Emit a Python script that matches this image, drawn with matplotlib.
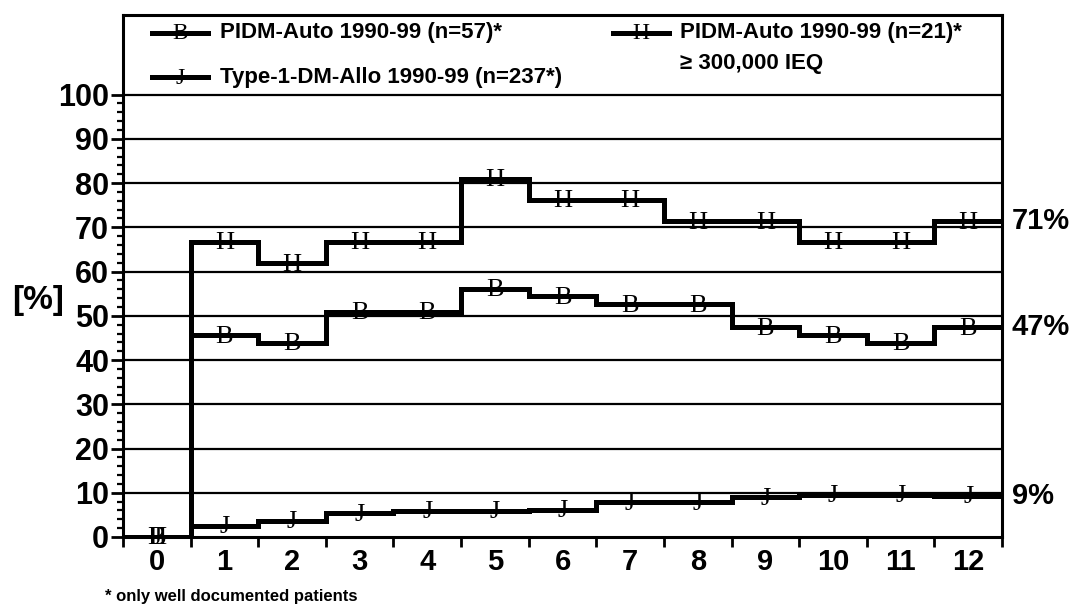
import numpy as np
import matplotlib
matplotlib.use('Agg')
import matplotlib.pyplot as plt
from matplotlib.lines import Line2D

# data
months = list(range(13))
pidm_auto_57 = [0, 45.6, 43.9, 50.9, 50.9, 56.1, 54.4, 52.6, 52.6, 47.4, 45.6, 43.9, 47.4]
pidm_auto_21 = [0, 66.7, 61.9, 66.7, 66.7, 81.0, 76.2, 76.2, 71.4, 71.4, 66.7, 66.7, 71.4]
type1_allo = [0, 2.5, 3.6, 5.4, 5.9, 5.9, 6.1, 7.8, 7.8, 9.0, 9.6, 9.6, 9.3]

series = [
    ('B', pidm_auto_57),
    ('H', pidm_auto_21),
    ('J', type1_allo),
]

plt.rcParams['font.family'] = ['Liberation Sans', 'DejaVu Sans']
plt.rcParams['font.weight'] = 'bold'

fig = plt.figure(figsize=(10.74, 6.08), dpi=100)
ax = fig.add_axes([123/1074, 1 - 537/608, (1002 - 123)/1074, (537 - 15)/608])

edges = np.arange(len(months) + 1) - 0.5
for letter, vals in series:
    ax.stairs(vals, edges, baseline=None, color='black', lw=3.6, zorder=3)
    for x, y in zip(months, vals):
        ax.annotate(letter, (x, y), xytext=(0, -1), textcoords='offset points',
                    ha='center', va='center', fontsize=19, family='Liberation Serif',
                    fontweight='normal', zorder=4)
    # end label
    ax.annotate(f'{round(vals[-1])}%', (1, vals[-1]), xycoords=ax.get_yaxis_transform(),
                xytext=(7, 0), textcoords='offset points', ha='left', va='center',
                fontsize=21, fontweight='bold', annotation_clip=False)

ax.set_xlim(-0.5, 12.5)
ax.set_ylim(0, 118)

# y axis
ax.set_yticks(np.arange(0, 101, 10))
ax.set_yticks(np.arange(0, 101, 2), minor=True)
ax.tick_params(axis='y', which='major', length=9, width=2, pad=1, labelsize=22)
ax.tick_params(axis='y', which='minor', length=4, width=1.6)
for y in range(10, 101, 10):
    ax.axhline(y, color='black', lw=1.6, zorder=1)

# x axis: ticks between categories, labels centred
ax.set_xticks(edges)
ax.set_xticklabels([])
ax.set_xticks(months, minor=True)
ax.set_xticklabels([str(m) for m in months], minor=True)
ax.tick_params(axis='x', which='major', length=7, width=2)
ax.tick_params(axis='x', which='minor', length=0, pad=8, labelsize=21)

for s in ax.spines.values():
    s.set_linewidth(2.2)

# legend drawn by hand
def legend_entry(x0, y0, letter, text):
    ax.add_line(Line2D([x0, x0 + 0.064], [y0, y0], transform=ax.transAxes,
                       color='black', lw=3.6, clip_on=False))
    ax.text(x0 + 0.032, y0 - 0.002, letter, transform=ax.transAxes, ha='center', va='center',
            fontsize=17, family='Liberation Serif', fontweight='normal')
    ax.text(x0 + 0.077, y0, text, transform=ax.transAxes, ha='left', va='center',
            fontsize=16, fontweight='bold')

legend_entry(0.033, 0.966, 'B', 'PIDM-Auto 1990-99 (n=57)*')
legend_entry(0.033, 0.881, 'J', 'Type-1-DM-Allo 1990-99 (n=237*)')
legend_entry(0.557, 0.966, 'H', 'PIDM-Auto 1990-99 (n=21)*')
ax.text(0.557 + 0.077, 0.908, '≥ 300,000 IEQ', transform=ax.transAxes, ha='left', va='center',
        fontsize=16, fontweight='bold')

fig.text(38/1074, 1 - 300/608, '[%]', ha='center', va='center', fontsize=24, fontweight='bold')
fig.text(105/1074, 1 - 597/608, '* only well documented patients', ha='left', va='center',
         fontsize=12, fontweight='bold')

fig.savefig('out.png', dpi=100)
